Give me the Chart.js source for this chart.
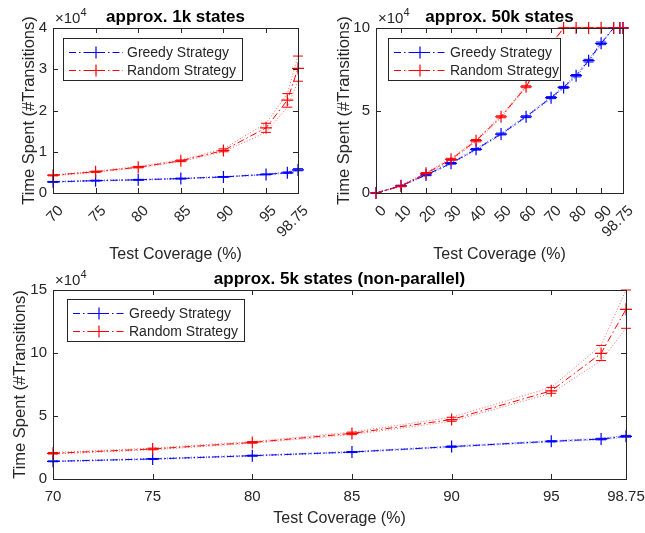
<!DOCTYPE html>
<html>
<head>
<meta charset="utf-8">
<script src="https://cdn.jsdelivr.net/npm/chart.js@4/dist/chart.umd.min.js"></script>
<style>
  html, body { margin: 0; padding: 0; background: #fff; }
  #wrap { position: relative; width: 645px; height: 533px; }
  canvas { position: absolute; }
</style>
</head>
<body>
<div id="wrap">
  <canvas id="chart1k" width="320" height="270" style="left:0;top:0"></canvas>
  <canvas id="chart50k" width="325" height="270" style="left:320px;top:0"></canvas>
  <canvas id="chart5k" width="645" height="271" style="left:0;top:262px"></canvas>
</div>
<script>
'use strict';

// values are in units of 10^4 transitions
const coverage1k = [70, 75, 80, 85, 90, 95, 97.5, 98.75];
const xTicks1k = [70, 75, 80, 85, 90, 95, 98.75];
const greedy1k = [0.27, 0.30, 0.32, 0.35, 0.39, 0.45, 0.49, 0.56];
const greedy1kHigh = [0.28, 0.31, 0.33, 0.36, 0.40, 0.46, 0.51, 0.59];
const greedy1kLow = [0.26, 0.29, 0.31, 0.34, 0.38, 0.44, 0.48, 0.54];
const random1k = [0.43, 0.515, 0.625, 0.78, 1.03, 1.58, 2.25, 3.02];
const random1kHigh = [0.44, 0.53, 0.645, 0.80, 1.07, 1.69, 2.41, 3.32];
const random1kLow = [0.415, 0.50, 0.61, 0.76, 1.00, 1.47, 2.08, 2.71];

const coverage50k = [0, 10, 20, 30, 40, 50, 60, 70, 75, 80, 85, 90, 95, 97.5, 98.75];
const xTicks50k = [0, 10, 20, 30, 40, 50, 60, 70, 80, 90, 98.75];
const greedy50k = [0, 0.44, 1.09, 1.8, 2.65, 3.57, 4.62, 5.78, 6.4, 7.11, 8.02, 9.07, 10, 10, 10];
const greedy50kHigh = [0, 0.47, 1.13, 1.85, 2.7, 3.63, 4.68, 5.84, 6.46, 7.18, 8.1, 9.15, 10, 10, 10];
const greedy50kLow = [0, 0.41, 1.05, 1.75, 2.6, 3.52, 4.57, 5.72, 6.34, 7.04, 7.94, 8.99, 10, 10, 10];
const random50k = [0, 0.42, 1.19, 2.04, 3.17, 4.62, 6.44, 9.0, 10, 10, 10, 10, 10, 10, 10];
const random50kHigh = [0, 0.46, 1.24, 2.1, 3.24, 4.68, 6.5, 9.1, 10, 10, 10, 10, 10, 10, 10];
const random50kLow = [0, 0.38, 1.14, 1.98, 3.1, 4.56, 6.38, 8.9, 10, 10, 10, 10, 10, 10, 10];

const coverage5k = [70, 75, 80, 85, 90, 95, 97.5, 98.75];
const xTicks5k = [70, 75, 80, 85, 90, 95, 98.75];
const greedy5k = [1.4, 1.59, 1.85, 2.14, 2.57, 2.99, 3.17, 3.39];
const greedy5kHigh = [1.43, 1.63, 1.89, 2.18, 2.62, 3.04, 3.23, 3.46];
const greedy5kLow = [1.37, 1.55, 1.81, 2.10, 2.52, 2.94, 3.11, 3.32];
const random5k = [2.04, 2.38, 2.9, 3.62, 4.72, 7.0, 9.97, 13.47];
const random5kHigh = [2.1, 2.45, 2.97, 3.72, 4.9, 7.27, 10.6, 15.0];
const random5kLow = [1.98, 2.32, 2.84, 3.52, 4.58, 6.8, 9.4, 11.96];

const FONT = '"Liberation Sans", Arial, Helvetica, sans-serif';
const INK = '#262626';
const BLUE = '#0000ff';
const RED = '#ff0000';
const DASHDOT = [7, 3, 1.5, 3];

function points(xs, ys) {
    return xs.map((x, i) => ({ x: x, y: ys[i] }));
}

function meanLine(label, xs, ys, color, order) {
    return {
        label: label,
        data: points(xs, ys),
        borderColor: color,
        backgroundColor: color,
        borderWidth: 1,
        borderDash: DASHDOT,
        pointStyle: 'cross',
        pointRadius: 6,
        pointBorderWidth: 1.2,
        tension: 0,
        clip: false,
        order: order
    };
}

function boundLine(xs, ys, color, faded, order) {
    return {
        data: points(xs, ys),
        borderColor: faded,
        pointBorderColor: color,
        backgroundColor: color,
        borderWidth: 1,
        borderDash: [1, 2],
        pointStyle: 'line',
        pointRadius: 5,
        pointBorderWidth: 1,
        tension: 0,
        clip: false,
        order: order
    };
}

// MATLAB-like box, inward ticks, exponent label and boxed legend
const matlabAxes = {
    id: 'matlabAxes',
    afterDatasetsDraw(chart, args, opts) {
        const ctx = chart.ctx;
        const a = chart.chartArea;
        const x = chart.scales.x;
        const y = chart.scales.y;
        ctx.save();
        ctx.setLineDash([]);
        ctx.strokeStyle = INK;
        ctx.lineWidth = 1;
        ctx.beginPath();
        x.ticks.forEach(t => {
            const px = Math.round(x.getPixelForValue(t.value)) + 0.5;
            ctx.moveTo(px, a.bottom); ctx.lineTo(px, a.bottom - 5);
            ctx.moveTo(px, a.top); ctx.lineTo(px, a.top + 5);
        });
        y.ticks.forEach(t => {
            const py = Math.round(y.getPixelForValue(t.value)) + 0.5;
            ctx.moveTo(a.left, py); ctx.lineTo(a.left + 5, py);
            ctx.moveTo(a.right, py); ctx.lineTo(a.right - 5, py);
        });
        ctx.stroke();
        ctx.strokeRect(Math.round(a.left) + 0.5, Math.round(a.top) + 0.5,
            Math.round(a.right - a.left), Math.round(a.bottom - a.top));

        ctx.fillStyle = INK;
        ctx.textAlign = 'left';
        ctx.textBaseline = 'alphabetic';
        ctx.font = '15px ' + FONT;
        ctx.fillText('\u00d710', a.left + 2, a.top - 5);
        const w = ctx.measureText('\u00d710').width;
        ctx.font = '11px ' + FONT;
        ctx.fillText('4', a.left + 2 + w, a.top - 12);

        const items = chart.data.datasets.filter(d => d.label);
        ctx.font = '14px ' + FONT;
        const tw = Math.max(...items.map(d => ctx.measureText(d.label).width));
        const bx = Math.round(a.left + opts.dx);
        const by = Math.round(a.top + opts.dy);
        const bw = Math.round(opts.textX + tw + opts.tail);
        const bh = 42;
        ctx.fillStyle = '#fff';
        ctx.fillRect(bx, by, bw, bh);
        ctx.strokeStyle = INK;
        ctx.strokeRect(bx + 0.5, by + 0.5, bw, bh);
        items.forEach((d, i) => {
            const ry = by + 14.5 + i * 18;
            ctx.strokeStyle = d.borderColor;
            ctx.setLineDash(d.borderDash);
            ctx.beginPath();
            ctx.moveTo(bx + 6, ry);
            ctx.lineTo(bx + opts.textX - 4, ry);
            ctx.stroke();
            ctx.setLineDash([]);
            const cx = bx + (opts.textX + 2) / 2;
            ctx.lineWidth = 1.2;
            ctx.beginPath();
            ctx.moveTo(cx - 6, ry); ctx.lineTo(cx + 6, ry);
            ctx.moveTo(cx, ry - 6); ctx.lineTo(cx, ry + 6);
            ctx.stroke();
            ctx.lineWidth = 1;
            ctx.fillStyle = INK;
            ctx.textBaseline = 'middle';
            ctx.fillText(d.label, bx + opts.textX, ry + 0.5);
        });
        ctx.restore();
    }
};

function drawPanel(id, p) {
    return new Chart(document.getElementById(id), {
        type: 'line',
        data: { datasets: p.datasets },
        plugins: [matlabAxes],
        options: {
            responsive: false,
            animation: false,
            events: [],
            layout: { padding: { left: 0, right: p.padRight, top: 0, bottom: 0 } },
            plugins: {
                legend: { display: false },
                tooltip: { enabled: false },
                title: {
                    display: true,
                    text: p.title,
                    fullSize: false,
                    color: '#000',
                    font: { family: FONT, size: 17, weight: 'bold' },
                    padding: { top: p.titleTop, bottom: p.titleBottom }
                },
                matlabAxes: p.legend
            },
            scales: {
                x: {
                    type: 'linear',
                    min: p.xTicks[0],
                    max: p.xTicks[p.xTicks.length - 1],
                    afterBuildTicks: axis => { axis.ticks = p.xTicks.map(v => ({ value: v })); },
                    afterFit: axis => {
                        axis.height = p.xHeight;
                        axis.paddingLeft = 0;
                        axis.paddingRight = 0;
                    },
                    grid: { display: false, drawTicks: false },
                    border: { display: false },
                    ticks: {
                        autoSkip: false,
                        minRotation: p.rotation,
                        maxRotation: p.rotation,
                        padding: p.xPad,
                        labelOffset: p.xLabelOffset,
                        color: INK,
                        font: { family: FONT, size: 15 },
                        callback: v => String(v)
                    },
                    title: {
                        display: true,
                        text: 'Test Coverage (%)',
                        color: INK,
                        font: { family: FONT, size: 16 },
                        padding: { top: 0, bottom: p.xTitlePad }
                    }
                },
                y: {
                    min: 0,
                    max: p.yMax,
                    afterFit: axis => {
                        axis.width = p.yWidth;
                        axis.paddingTop = 0;
                        axis.paddingBottom = 0;
                    },
                    grid: { display: false, drawTicks: false },
                    border: { display: false },
                    ticks: {
                        stepSize: p.yStep,
                        padding: 6,
                        color: INK,
                        font: { family: FONT, size: 15 }
                    },
                    title: {
                        display: true,
                        text: 'Time Spent (#Transitions)',
                        color: INK,
                        font: { family: FONT, size: 16.5 },
                        padding: { top: p.yTitlePad, bottom: 0 }
                    }
                }
            }
        }
    });
}

drawPanel('chart1k', {
    title: 'approx. 1k states',
    datasets: [
        meanLine('Greedy Strategy', coverage1k, greedy1k, BLUE, 1),
        meanLine('Random Strategy', coverage1k, random1k, RED, 0),
        boundLine(coverage1k, greedy1kHigh, BLUE, 'rgba(0,0,255,0.6)', 3),
        boundLine(coverage1k, greedy1kLow, BLUE, 'rgba(0,0,255,0.6)', 3),
        boundLine(coverage1k, random1kHigh, RED, 'rgba(255,0,0,0.6)', 2),
        boundLine(coverage1k, random1kLow, RED, 'rgba(255,0,0,0.6)', 2)
    ],
    xTicks: xTicks1k, yMax: 4, yStep: 1, rotation: 45,
    xHeight: 77, yWidth: 53, padRight: 22, xPad: 9, xLabelOffset: 8,
    titleTop: 7, titleBottom: 0.6, xTitlePad: 6, yTitlePad: 20,
    legend: { dx: 10, dy: 10, textX: 64, tail: 6 }
});

drawPanel('chart50k', {
    title: 'approx. 50k states',
    datasets: [
        meanLine('Greedy Strategy', coverage50k, greedy50k, BLUE, 1),
        meanLine('Random Strategy', coverage50k, random50k, RED, 0),
        boundLine(coverage50k, greedy50kHigh, BLUE, 'rgba(0,0,255,0.6)', 3),
        boundLine(coverage50k, greedy50kLow, BLUE, 'rgba(0,0,255,0.6)', 3),
        boundLine(coverage50k, random50kHigh, RED, 'rgba(255,0,0,0.6)', 2),
        boundLine(coverage50k, random50kLow, RED, 'rgba(255,0,0,0.6)', 2)
    ],
    xTicks: xTicks50k, yMax: 10, yStep: 5, rotation: 45,
    xHeight: 77, yWidth: 56, padRight: 22, xPad: 9, xLabelOffset: 8,
    titleTop: 7, titleBottom: 0.6, xTitlePad: 6, yTitlePad: 15,
    legend: { dx: 12, dy: 10, textX: 62, tail: 1 }
});

drawPanel('chart5k', {
    title: 'approx. 5k states (non-parallel)',
    datasets: [
        meanLine('Greedy Strategy', coverage5k, greedy5k, BLUE, 1),
        meanLine('Random Strategy', coverage5k, random5k, RED, 0),
        boundLine(coverage5k, greedy5kHigh, BLUE, 'rgba(0,0,255,0.6)', 3),
        boundLine(coverage5k, greedy5kLow, BLUE, 'rgba(0,0,255,0.6)', 3),
        boundLine(coverage5k, random5kHigh, RED, 'rgba(255,0,0,0.6)', 2),
        boundLine(coverage5k, random5kLow, RED, 'rgba(255,0,0,0.6)', 2)
    ],
    xTicks: xTicks5k, yMax: 15, yStep: 5, rotation: 0,
    xHeight: 54, yWidth: 53, padRight: 19, xPad: 9, xLabelOffset: 0,
    titleTop: 7, titleBottom: 0.6, xTitlePad: 5, yTitlePad: 11,
    legend: { dx: 14, dy: 9, textX: 62, tail: 6 }
});
</script>
</body>
</html>
